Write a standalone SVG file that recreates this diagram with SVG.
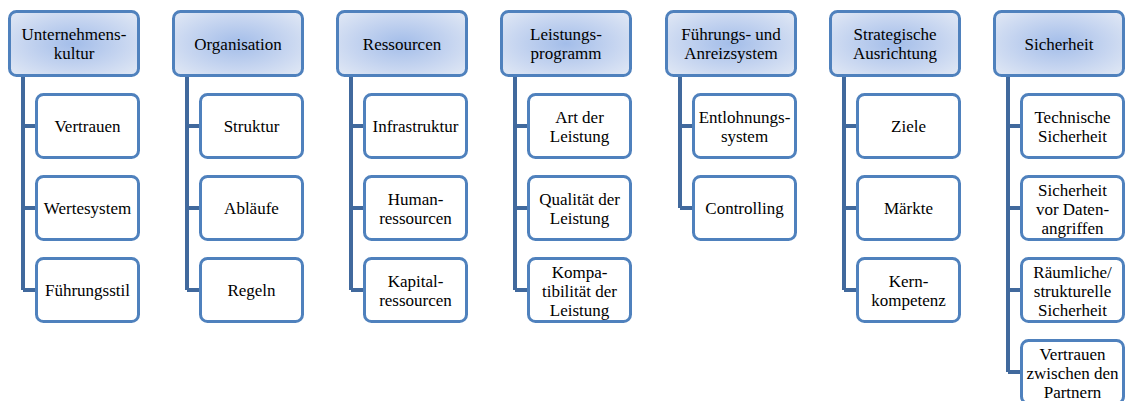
<svg xmlns="http://www.w3.org/2000/svg" width="1125" height="401" viewBox="0 0 1125 401">
  <defs>
    <radialGradient id="headFill" cx="50%" cy="50%" r="70%">
      <stop offset="0" stop-color="#a3bde9"/>
      <stop offset="0.55" stop-color="#c6d5f0"/>
      <stop offset="1" stop-color="#e2e9f5"/>
    </radialGradient>
    <style>
      .head rect { fill: url(#headFill); stroke: #4f81bd; stroke-width: 3; }
      .item rect { fill: #ffffff; stroke: #4f81bd; stroke-width: 3; }
      .nodes text { font-family: 'Liberation Serif', 'DejaVu Serif', 'Noto Serif', Times, serif; font-size: 17px; fill: #000; text-anchor: middle; }
      .links path { fill: none; stroke: #41699d; stroke-width: 4; }
    </style>
  </defs>

  <rect width="1125" height="401" fill="#ffffff"/>

  <!-- connectors: trunk from each header, branch to each item -->
  <g class="links">
    <path d="M23 77V290M23 126H36.5M23 208H36.5M23 290H36.5"/>
    <path d="M187 77V290M187 126H200.5M187 208H200.5M187 290H200.5"/>
    <path d="M351 77V290M351 126H364.5M351 208H364.5M351 290H364.5"/>
    <path d="M515 77V290M515 126H528.5M515 208H528.5M515 290H528.5"/>
    <path d="M680 77V208M680 126H693.5M680 208H693.5"/>
    <path d="M844 77V290M844 126H857.5M844 208H857.5M844 290H857.5"/>
    <path d="M1008 77V372M1008 126H1021.5M1008 208H1021.5M1008 290H1021.5M1008 372H1021.5"/>
  </g>

  <g class="nodes">
  <!-- column 1 -->
  <g id="unternehmenskultur" class="head"><rect x="9.5" y="11.5" width="129" height="64" rx="7"/><text x="74" y="40">Unternehmens-</text><text x="74" y="59">kultur</text></g>
  <g id="vertrauen" class="item"><rect x="36.5" y="94.5" width="102" height="63" rx="7"/><text x="87.5" y="132">Vertrauen</text></g>
  <g id="wertesystem" class="item"><rect x="36.5" y="176.5" width="102" height="63" rx="7"/><text x="87.5" y="214">Wertesystem</text></g>
  <g id="fuehrungsstil" class="item"><rect x="36.5" y="258.5" width="102" height="63" rx="7"/><text x="87.5" y="296">Führungsstil</text></g>

  <!-- column 2 -->
  <g id="organisation" class="head"><rect x="173.5" y="11.5" width="129" height="64" rx="7"/><text x="238" y="50">Organisation</text></g>
  <g id="struktur" class="item"><rect x="200.5" y="94.5" width="102" height="63" rx="7"/><text x="251.5" y="132">Struktur</text></g>
  <g id="ablaeufe" class="item"><rect x="200.5" y="176.5" width="102" height="63" rx="7"/><text x="251.5" y="214">Abläufe</text></g>
  <g id="regeln" class="item"><rect x="200.5" y="258.5" width="102" height="63" rx="7"/><text x="251.5" y="296">Regeln</text></g>

  <!-- column 3 -->
  <g id="ressourcen" class="head"><rect x="337.5" y="11.5" width="129" height="64" rx="7"/><text x="402" y="50">Ressourcen</text></g>
  <g id="infrastruktur" class="item"><rect x="364.5" y="94.5" width="102" height="63" rx="7"/><text x="415.5" y="132">Infrastruktur</text></g>
  <g id="humanressourcen" class="item"><rect x="364.5" y="176.5" width="102" height="63" rx="7"/><text x="415.5" y="204.5">Human-</text><text x="415.5" y="223.5">ressourcen</text></g>
  <g id="kapitalressourcen" class="item"><rect x="364.5" y="258.5" width="102" height="63" rx="7"/><text x="415.5" y="286.5">Kapital-</text><text x="415.5" y="305.5">ressourcen</text></g>

  <!-- column 4 -->
  <g id="leistungsprogramm" class="head"><rect x="501.5" y="11.5" width="129" height="64" rx="7"/><text x="566" y="40">Leistungs-</text><text x="566" y="59">programm</text></g>
  <g id="art-der-leistung" class="item"><rect x="528.5" y="94.5" width="102" height="63" rx="7"/><text x="579.5" y="122.5">Art der</text><text x="579.5" y="141.5">Leistung</text></g>
  <g id="qualitaet" class="item"><rect x="528.5" y="176.5" width="102" height="63" rx="7"/><text x="579.5" y="204.5">Qualität der</text><text x="579.5" y="223.5">Leistung</text></g>
  <g id="kompatibilitaet" class="item"><rect x="528.5" y="258.5" width="102" height="63" rx="7"/><text x="579.5" y="278">Kompa-</text><text x="579.5" y="297">tibilität der</text><text x="579.5" y="316">Leistung</text></g>

  <!-- column 5 -->
  <g id="fuehrungs-anreizsystem" class="head"><rect x="666.5" y="11.5" width="129" height="64" rx="7"/><text x="731" y="40">Führungs- und</text><text x="731" y="59">Anreizsystem</text></g>
  <g id="entlohnungssystem" class="item"><rect x="693.5" y="94.5" width="102" height="63" rx="7"/><text x="744.5" y="122.5">Entlohnungs-</text><text x="744.5" y="141.5">system</text></g>
  <g id="controlling" class="item"><rect x="693.5" y="176.5" width="102" height="63" rx="7"/><text x="744.5" y="214">Controlling</text></g>

  <!-- column 6 -->
  <g id="strategische-ausrichtung" class="head"><rect x="830.5" y="11.5" width="129" height="64" rx="7"/><text x="895" y="40">Strategische</text><text x="895" y="59">Ausrichtung</text></g>
  <g id="ziele" class="item"><rect x="857.5" y="94.5" width="102" height="63" rx="7"/><text x="908.5" y="132">Ziele</text></g>
  <g id="maerkte" class="item"><rect x="857.5" y="176.5" width="102" height="63" rx="7"/><text x="908.5" y="214">Märkte</text></g>
  <g id="kernkompetenz" class="item"><rect x="857.5" y="258.5" width="102" height="63" rx="7"/><text x="908.5" y="286.5">Kern-</text><text x="908.5" y="305.5">kompetenz</text></g>

  <!-- column 7 -->
  <g id="sicherheit" class="head"><rect x="994.5" y="11.5" width="129" height="64" rx="7"/><text x="1059" y="50">Sicherheit</text></g>
  <g id="technische-sicherheit" class="item"><rect x="1021.5" y="94.5" width="102" height="63" rx="7"/><text x="1072.5" y="122.5">Technische</text><text x="1072.5" y="141.5">Sicherheit</text></g>
  <g id="datenangriffe" class="item"><rect x="1021.5" y="176.5" width="102" height="63" rx="7"/><text x="1072.5" y="196">Sicherheit</text><text x="1072.5" y="215">vor Daten-</text><text x="1072.5" y="234">angriffen</text></g>
  <g id="raeumliche-sicherheit" class="item"><rect x="1021.5" y="258.5" width="102" height="63" rx="7"/><text x="1072.5" y="278">Räumliche/</text><text x="1072.5" y="297">strukturelle</text><text x="1072.5" y="316">Sicherheit</text></g>
  <g id="vertrauen-partner" class="item"><rect x="1021.5" y="340.5" width="102" height="63" rx="7"/><text x="1072.5" y="360">Vertrauen</text><text x="1072.5" y="379">zwischen den</text><text x="1072.5" y="398">Partnern</text></g>
  </g>
</svg>
